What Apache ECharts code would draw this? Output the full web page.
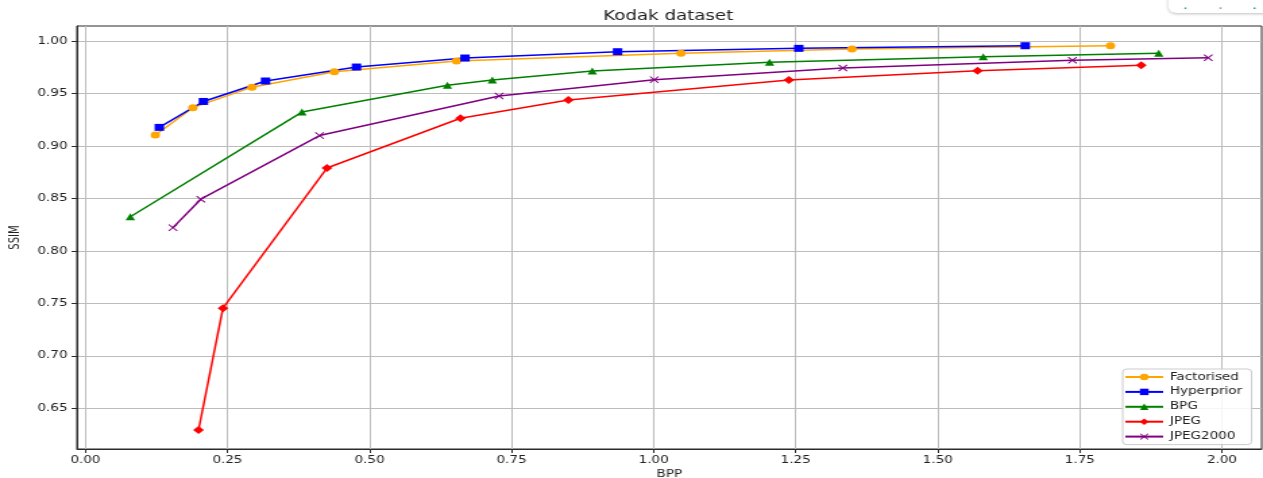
<!DOCTYPE html>
<html>
<head>
<meta charset="utf-8">
<title>Kodak dataset</title>
<script src="https://cdn.jsdelivr.net/npm/echarts@6/dist/echarts.min.js"></script>
<style>
  html, body { margin: 0; padding: 0; background: #fff; overflow: hidden; }
  #wrap { width: 1263px; height: 478px; overflow: hidden; }
  /* the figure is drawn at 936px wide and stretched horizontally to 1263px */
  #chart { width: 936px; height: 478px; transform: scaleX(1.349359); transform-origin: 0 0; }
</style>
</head>
<body>
<div id="wrap"><div id="chart"></div></div>
<script>
// Rate–distortion results on the Kodak set: bits per pixel vs. SSIM
const factorisedBpp  = [0.123, 0.189, 0.293, 0.438, 0.653, 1.048, 1.349, 1.804];
const factorisedSsim = [0.9105, 0.9365, 0.956, 0.9708, 0.981, 0.9883, 0.9924, 0.9955];

const hyperpriorBpp  = [0.130, 0.2076, 0.317, 0.477, 0.668, 0.9365, 1.2554, 1.654];
const hyperpriorSsim = [0.9177, 0.9424, 0.9619, 0.9752, 0.9838, 0.9898, 0.993, 0.9955];

const bpgBpp  = [0.079, 0.381, 0.637, 0.716, 0.892, 1.204, 1.580, 1.889];
const bpgSsim = [0.8326, 0.9323, 0.9578, 0.9629, 0.9714, 0.9797, 0.985, 0.9883];

const jpegBpp  = [0.199, 0.242, 0.425, 0.660, 0.850, 1.238, 1.570, 1.858];
const jpegSsim = [0.6294, 0.7455, 0.879, 0.9264, 0.9438, 0.9629, 0.9717, 0.9769];

const jpeg2000Bpp  = [0.154, 0.203, 0.412, 0.728, 1.001, 1.333, 1.737, 1.976];
const jpeg2000Ssim = [0.8222, 0.8493, 0.9099, 0.9476, 0.9632, 0.9743, 0.9816, 0.9841];

const seriesNames = ['Factorised', 'Hyperprior', 'BPG', 'JPEG', 'JPEG2000'];
const xTicks = [0.00, 0.25, 0.50, 0.75, 1.00, 1.25, 1.50, 1.75, 2.00];
const yTicks = [0.65, 0.70, 0.75, 0.80, 0.85, 0.90, 0.95, 1.00];

const FONT = '"DejaVu Sans", sans-serif';
const crossMark = 'path://M0,1 L1,0 L5,4 L9,0 L10,1 L6,5 L10,9 L9,10 L5,6 L1,10 L0,9 L4,5 Z';

function pairs(xs, ys) { return xs.map((x, i) => [x, ys[i]]); }

function makeSeries(name, xs, ys, color, symbol, size) {
  return {
    name: name,
    type: 'line',
    data: pairs(xs, ys),
    symbol: symbol,
    symbolSize: size,
    showAllSymbol: true,
    lineStyle: { color: color, width: 1.5 },
    itemStyle: { color: color },
    emphasis: { disabled: true },
    z: 3
  };
}

const chart = echarts.init(document.getElementById('chart'), null, { renderer: 'canvas' });

chart.setOption({
  animation: false,
  backgroundColor: '#ffffff',
  textStyle: { fontFamily: FONT },
  grid: {
    left: 57, right: 1, top: 26, bottom: 29,
    outerBoundsMode: 'none',
    show: true, borderColor: '#2b2b2b', borderWidth: 1, backgroundColor: '#ffffff',
    containLabel: false
  },
  xAxis: {
    type: 'value',
    min: -0.015, max: 2.07,
    name: 'BPP', nameLocation: 'middle', nameGap: 18,
    nameTextStyle: { fontFamily: FONT, fontSize: 10, color: '#222' },
    axisLine: { show: true, onZero: false, lineStyle: { color: '#2b2b2b', width: 1 } },
    axisTick: { show: true, length: 4, customValues: xTicks, lineStyle: { color: '#2b2b2b' } },
    axisLabel: {
      customValues: xTicks, margin: 6,
      fontFamily: FONT, fontSize: 10, color: '#222',
      formatter: v => v.toFixed(2)
    },
    splitLine: { show: true, lineStyle: { color: '#bcbcbc', width: 1 } }
  },
  yAxis: {
    type: 'value',
    min: 0.6113, max: 1.0143,
    name: 'SSIM', nameLocation: 'middle', nameGap: 35, nameRotate: 90,
    nameTextStyle: { fontFamily: FONT, fontSize: 10, color: '#222' },
    axisLine: { show: true, onZero: false, lineStyle: { color: '#2b2b2b', width: 1 } },
    axisTick: { show: true, length: 4, customValues: yTicks, lineStyle: { color: '#2b2b2b' } },
    axisLabel: {
      customValues: yTicks, margin: 7,
      fontFamily: FONT, fontSize: 10, color: '#222',
      formatter: v => v.toFixed(2)
    },
    splitLine: { show: true, lineStyle: { color: '#bcbcbc', width: 1 } }
  },
  legend: {
    data: seriesNames,
    orient: 'vertical',
    left: 832, top: 369,
    itemWidth: 28, itemHeight: 8, itemGap: 4.9,
    padding: [3, 7, 3, 1],
    backgroundColor: 'rgba(255,255,255,0.85)',
    borderColor: '#cccccc', borderWidth: 1, borderRadius: 3,
    textStyle: { fontFamily: FONT, fontSize: 10, color: '#222', lineHeight: 10 },
    selectedMode: false
  },
  graphic: [
    {
      type: 'text',
      left: 496 - 49, top: 9,
      style: { text: 'Kodak dataset', fontFamily: FONT, fontSize: 13.5, fill: '#222' }
    },
    {
      type: 'rect',
      shape: { x: 866, y: -14, width: 90, height: 27, r: 6 },
      style: { fill: '#ffffff', shadowBlur: 3, shadowColor: 'rgba(0,0,0,0.25)', shadowOffsetY: 1 },
      z: 10
    },
    { type: 'rect', shape: { x: 877.8, y: 7.5, width: 1.4, height: 1.4 }, style: { fill: '#2f8f8f' }, z: 11 },
    { type: 'rect', shape: { x: 903.8, y: 7.5, width: 1.4, height: 1.2 }, style: { fill: '#7a7a7a' }, z: 11 },
    { type: 'rect', shape: { x: 929.0, y: 7.5, width: 1.4, height: 1.4 }, style: { fill: '#2f8f8f' }, z: 11 }
  ],
  series: [
    makeSeries('Factorised', factorisedBpp, factorisedSsim, '#ffa500', 'circle', 7),
    makeSeries('Hyperprior', hyperpriorBpp, hyperpriorSsim, '#0000ff', 'rect', 7),
    makeSeries('BPG', bpgBpp, bpgSsim, '#008000', 'triangle', 7),
    makeSeries('JPEG', jpegBpp, jpegSsim, '#ff0000', 'diamond', 8),
    makeSeries('JPEG2000', jpeg2000Bpp, jpeg2000Ssim, '#800080', crossMark, 7)
  ]
});
</script>
</body>
</html>
